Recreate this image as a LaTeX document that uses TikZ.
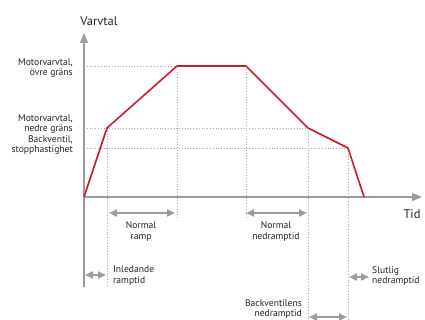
\documentclass[tikz,border=0pt]{standalone}
\usepackage{fontspec}
\setmainfont{PT Sans}
\usetikzlibrary{arrows.meta}
\definecolor{axisgray}{HTML}{9C9C9C}
\definecolor{curvered}{HTML}{C8202A}
\definecolor{dotgray}{HTML}{A8A8A8}
\definecolor{txt}{HTML}{231F20}
\begin{document}
\begin{tikzpicture}[x=1pt,y=-1pt,
  axisline/.style={draw=axisgray,line width=1.5pt,-{Triangle[length=10pt,width=8pt]}},
  guide/.style={draw=dotgray,line width=0.8pt,dash pattern=on 0.8pt off 2pt},
  span/.style={draw=axisgray,line width=2pt,{Triangle[length=8pt,width=7pt]}-{Triangle[length=8pt,width=7pt]}},
  curve/.style={draw=curvered,line width=1.6pt,line join=round},
  lbl/.style={font=\fontsize{9.6}{10.2}\selectfont,text=txt,inner sep=0pt},
  big/.style={font=\fontsize{12.5}{14}\selectfont,text=txt,inner sep=0pt}
]
\useasboundingbox (0,0) rectangle (425,320);

% axis coordinates
\coordinate (O) at (84,197);
\coordinate (ybot) at (84,287);
\coordinate (ytop) at (84,33);
\coordinate (xend) at (422,197);

% curve points
\coordinate (p1) at (107,128);
\coordinate (p2) at (177,66);
\coordinate (p3) at (246,66);
\coordinate (p4) at (308,128);
\coordinate (p5) at (348,148);
\coordinate (p6) at (364,197);

% guide ends
\coordinate (h1) at (84,66);
\coordinate (h2) at (84,128);
\coordinate (h3) at (84,148);
\coordinate (v1) at (107,287);
\coordinate (v2) at (177,220);
\coordinate (v3) at (246,220);
\coordinate (v4) at (308,320);
\coordinate (v5) at (348,320);

% dotted guides
\draw[guide] (h1) -- (p2);
\draw[guide] (h2) -- (p4);
\draw[guide] (h3) -- (p5);
\draw[guide] (p1) -- (v1);
\draw[guide] (p2) -- (v2);
\draw[guide] (p3) -- (v3);
\draw[guide] (p4) -- (v4);
\draw[guide] (p5) -- (v5);

% axes
\draw[axisline] (ybot) -- (ytop);
\draw[axisline] (O) -- (xend);

% curve
\draw[curve] (O) -- (p1) -- (p2) -- (p3) -- (p4) -- (p5) -- (p6);

% span arrows
\coordinate (a1) at (109,213);
\coordinate (a2) at (175,213);
\coordinate (b1) at (246,213);
\coordinate (b2) at (307,213);
\coordinate (c1) at (85,275);
\coordinate (c2) at (106,275);
\coordinate (d1) at (349,277);
\coordinate (d2) at (369,277);
\coordinate (e1) at (309,317);
\coordinate (e2) at (347,317);
\draw[span] (a1) -- (a2);
\draw[span] (b1) -- (b2);
\draw[span] (c1) -- (c2);
\draw[span] (d1) -- (d2);
\draw[span] (e1) -- (e2);

% labels
\node[big] (varvtal) at (99,21) {Varvtal};
\node[big] (tid) at (412,214) {Tid};
\node[lbl,anchor=east,align=right] (ovre) at (73,68) {Motorvarvtal,\\övre gräns};
\node[lbl,anchor=east,align=right] (nedre) at (73,124) {Motorvarvtal,\\nedre gräns};
\node[lbl,anchor=east,align=right] (stopp) at (73,145) {Backventil,\\stopphastighet};
\node[lbl,align=center] (nramp) at (141,231.5) {Normal\\ramp};
\node[lbl,align=center] (nned) at (276,231.5) {Normal\\nedramptid};
\node[lbl,anchor=west,align=left] (inled) at (113,275.5) {Inledande\\ramptid};
\node[lbl,anchor=west,align=left] (slut) at (372,276) {Slutlig\\nedramptid};
\node[lbl,anchor=east,align=right] (backv) at (302,309) {Backventilens\\nedramptid};
\end{tikzpicture}
\end{document}
